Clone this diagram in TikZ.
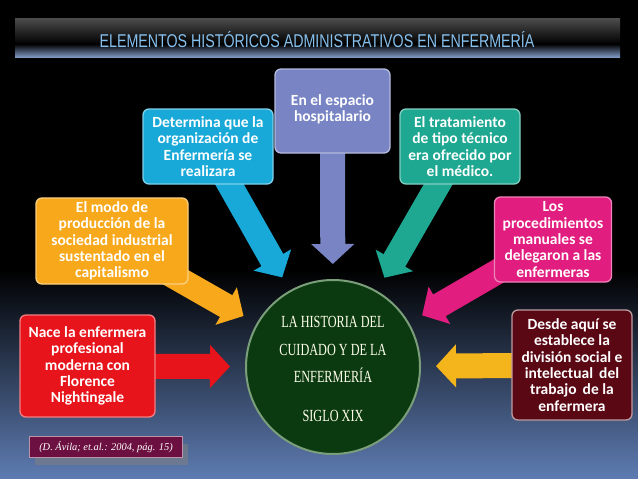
\documentclass[tikz,border=0pt]{standalone}
\usepackage{fontspec}
\usetikzlibrary{arrows.meta,shadows}
\newfontfamily\boxfont{Carlito}
\newfontfamily\titlefont{Liberation Sans}
\newfontfamily\circfont{Liberation Serif}
\definecolor{boxred}{HTML}{E8141C}
\definecolor{boxorange}{HTML}{F7A81B}
\definecolor{boxcyan}{HTML}{18A9D8}
\definecolor{boxlav}{HTML}{7884C4}
\definecolor{boxteal}{HTML}{1EA791}
\definecolor{boxpink}{HTML}{E11E80}
\definecolor{boxmaroon}{HTML}{5A0814}
\definecolor{arryellow}{HTML}{F4B41C}
\definecolor{citeplum}{HTML}{6B1040}
\definecolor{circgreen}{HTML}{0B3A10}
\definecolor{circedge}{HTML}{7A9E7A}
\definecolor{bgblue}{HTML}{5E7CB2}
\definecolor{titleblue}{HTML}{86C0EE}
\pgfdeclarelayer{back}
\pgfdeclarelayer{arrows}
\pgfsetlayers{back,arrows,main}

\begin{document}
\begin{tikzpicture}[x=1pt,y=-1pt,
  box/.style={draw=#1!55!white,fill=#1,line width=1.3pt,rounded corners=6pt,
    align=center,text=white,inner sep=1pt,
    font=\boxfont\bfseries\fontsize{15.5}{16.3}\selectfont},
  bigarrow/.style={draw=#1,line width=25pt,-{Triangle[length=20pt,width=42pt]},
    shorten >=15pt}]
  \useasboundingbox (0,0) rectangle (638,479);
  % ---------------- background and title bar
  \begin{pgfonlayer}{back}
    \fill[black] (0,0) rectangle (638,479);
    \shade[top color=black,bottom color=bgblue] (0,270) rectangle (638,479);
    \shade[top color=gray!60!black,bottom color=black] (15,18) rectangle (620,44);
    \shade[top color=black,bottom color=bgblue!80!white] (15,44) rectangle (620,57);
  \end{pgfonlayer}
  \node[text=titleblue,font=\titlefont\fontsize{18.5}{20}\selectfont] (title) at (317,40)
    {\scalebox{0.77}[1]{ELEMENTOS HISTÓRICOS ADMINISTRATIVOS EN ENFERMERÍA}};
  % ---------------- centre
  \node[circle,minimum size=174pt,inner sep=0pt,fill=circgreen,draw=circedge,
    line width=2pt] (hist) at (333,367) {};
  \node[align=center,text=white!92!yellow,inner sep=0pt,
    font=\circfont\fontsize{17}{27.5}\selectfont] (histtxt) at (333,369)
    {\scalebox{0.72}[1]{LA HISTORIA DEL}\\
     \scalebox{0.72}[1]{CUIDADO Y DE LA}\\
     \scalebox{0.72}[1]{ENFERMERÍA}\\[11pt]
     \scalebox{0.72}[1]{SIGLO XIX}};
  % ---------------- boxes round it
  \node[box=boxred,minimum width=135pt,minimum height=102pt] (nace) at (87.5,366)
    {Nace la enfermera\\profesional\\moderna con\\Florence\\Nightingale};
  \node[box=boxorange,minimum width=152pt,minimum height=86pt] (modo) at (112,241)
    {El modo de\\producción de la\\sociedad industrial\\sustentado en el\\capitalismo};
  \node[box=boxcyan,minimum width=130pt,minimum height=75pt] (determina) at (208,146.5)
    {Determina que la\\organización de\\Enfermería se\\realizara};
  \node[box=boxlav,minimum width=115pt,minimum height=84pt] (espacio) at (332.5,111) {};
  \node[text=white,align=center,anchor=north,inner sep=0pt,
    font=\boxfont\bfseries\fontsize{15.5}{16.3}\selectfont] (espaciotxt)
    at ([yshift=-26pt]espacio.north) {En el espacio\\hospitalario};
  \node[box=boxteal,minimum width=120pt,minimum height=75pt] (tratamiento) at (460,146.5)
    {El tratamiento\\de tipo técnico\\era ofrecido por\\el médico.};
  \node[box=boxpink,minimum width=117pt,minimum height=85pt] (procedim) at (553,239.5)
    {Los\\procedimientos\\manuales se\\delegaron a las\\enfermeras};
  \node[box=boxmaroon,draw=boxmaroon!40!white,minimum width=120pt,minimum height=110pt]
    (desde) at (572,365)
    {Desde aquí se\\establece la\\división social e\\intelectual\, del\\trabajo\, de la\\enfermera};
  % ---------------- source
  \node[fill=citeplum,draw=citeplum!45!white,line width=0.8pt,minimum width=153pt,
    minimum height=21pt,text=white,font=\circfont\itshape\fontsize{10.4}{12}\selectfont,
    drop shadow={opacity=0.55,shadow xshift=5pt,shadow yshift=-7pt}] (cita) at (106,447)
    {(D. Ávila; et.al.: 2004, pág. 15)};
  % ---------------- arrows into the centre
  \begin{pgfonlayer}{arrows}
    \draw[bigarrow=boxred] (nace.center) -- (hist);
    \draw[bigarrow=boxorange] (modo.center) -- (hist);
    \draw[bigarrow=boxcyan] (determina.center) -- (hist);
    \draw[bigarrow=boxlav] (espacio.center) -- (hist);
    \draw[bigarrow=boxteal] (tratamiento.center) -- (hist);
    \draw[bigarrow=boxpink] (procedim.center) -- (hist);
    \draw[bigarrow=arryellow] (desde.center) -- (hist);
  \end{pgfonlayer}
\end{tikzpicture}
\end{document}
